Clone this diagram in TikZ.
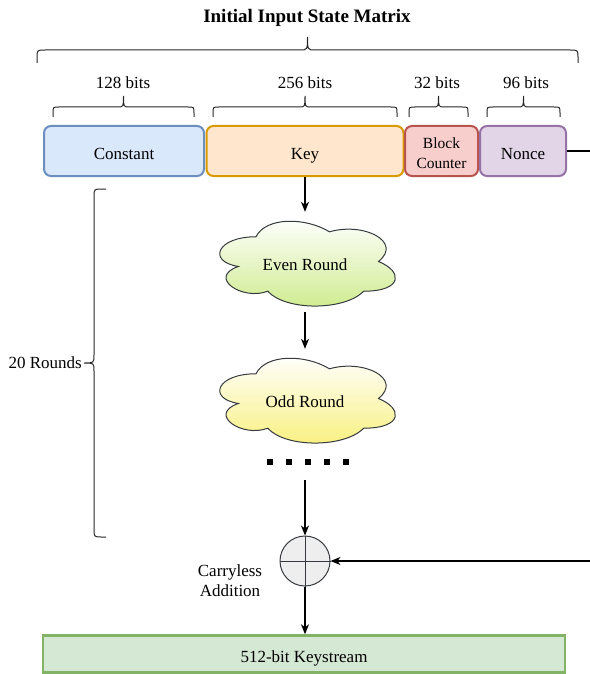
\documentclass[tikz,border=0pt]{standalone}
\usepackage{fontspec}
\setmainfont{Liberation Serif}
\usetikzlibrary{arrows.meta}

\definecolor{constFill}{HTML}{DAE8FC}\definecolor{constLine}{HTML}{6C8EBF}
\definecolor{keyFill}{HTML}{FFE6CC}\definecolor{keyLine}{HTML}{D79B00}
\definecolor{ctrFill}{HTML}{F8CECC}\definecolor{ctrLine}{HTML}{B85450}
\definecolor{nonceFill}{HTML}{E1D5E7}\definecolor{nonceLine}{HTML}{9673A6}
\definecolor{ksFill}{HTML}{D5E8D4}\definecolor{ksLine}{HTML}{82B366}
\definecolor{evenBot}{HTML}{CDEB8B}
\definecolor{oddBot}{HTML}{F8F07C}
\definecolor{xorFill}{HTML}{EEEEEE}\definecolor{xorLine}{HTML}{36393D}

% horizontal curly brace: x1, x2, y of ends, y of bar, y of tip, corner radius
\newcommand{\hbrace}[6]{%
  \draw[braceline] (#1,#3) -- (#1,{#4+#6}) .. controls (#1,#4) .. ({#1+#6},#4)
    -- ({(#1+#2)/2-#6},#4) .. controls ({(#1+#2)/2},#4) .. ({(#1+#2)/2},#5)
    .. controls ({(#1+#2)/2},#4) .. ({(#1+#2)/2+#6},#4)
    -- ({#2-#6},#4) .. controls (#2,#4) .. (#2,{#4+#6}) -- (#2,#3);}
% vertical curly brace opening to the right: y1, y2, x of ends, x of bar, x of tip, radius
\newcommand{\vbrace}[6]{%
  \draw[braceline] (#3,#1) -- ({#4+#6},#1) .. controls (#4,#1) .. (#4,{#1+#6})
    -- (#4,{(#1+#2)/2-#6}) .. controls (#4,{(#1+#2)/2}) .. (#5,{(#1+#2)/2})
    .. controls (#4,{(#1+#2)/2}) .. (#4,{(#1+#2)/2+#6})
    -- (#4,{#2-#6}) .. controls (#4,#2) .. ({#4+#6},#2) -- (#3,#2);}
% cloud outline inside the box with top-left corner (#2,#3), size #4 x #5
\newcommand{\cloudpath}[5]{%
  \begin{scope}[shift={(#2,#3)}, x=#4pt, y=-#5pt]
    \path[#1] (0.25,0.25) .. controls (0.05,0.25) and (0,0.5) .. (0.16,0.55)
      .. controls (0,0.66) and (0.18,0.9) .. (0.31,0.8)
      .. controls (0.4,1) and (0.7,1) .. (0.8,0.8)
      .. controls (1,0.8) and (1,0.6) .. (0.875,0.5)
      .. controls (1,0.3) and (0.8,0.1) .. (0.625,0.2)
      .. controls (0.5,0.05) and (0.3,0.05) .. (0.25,0.25) -- cycle;
  \end{scope}}

\tikzset{
  every node/.style={font=\fontsize{17}{20}\selectfont, inner sep=0pt,
    text height=12pt, text depth=0pt},
  multiline/.style={align=center, text height=, text depth=},
  field/.style={draw, line width=2pt, rounded corners=7pt, minimum height=50pt,
    text height=16.5pt},
  braceline/.style={line width=1pt, black!85},
  flow/.style={line width=1.1pt, -{Stealth[length=10pt,width=8pt,inset=3pt]}},
  cloudbox/.style={minimum width=196pt, minimum height=100pt, text height=17pt},
}

\begin{document}
\begin{tikzpicture}[x=1pt, y=-1pt]
\useasboundingbox (0,0) rectangle (589,674);

% title and overall brace
\node[font=\fontsize{19}{22}\selectfont\bfseries, text height=13pt] (title) at (307,16) {Initial Input State Matrix};
\hbrace{37}{578}{63}{50}{37}{8}

% field widths
\node (l128) at (123,83) {128 bits};
\node (l256) at (305,83) {256 bits};
\node (l32)  at (437,83) {32 bits};
\node (l96)  at (526,83) {96 bits};
\hbrace{53}{194}{117}{107}{96}{6}
\hbrace{213}{397}{117}{107}{96}{6}
\hbrace{409}{468}{117}{107}{96}{6}
\hbrace{487}{560}{117}{107}{96}{6}

% state fields
\node[field, fill=constFill, draw=constLine, minimum width=160pt] (const) at (124,151) {Constant};
\node[field, fill=keyFill, draw=keyLine, minimum width=197pt] (key) at (305,151) {Key};
\node[field, fill=ctrFill, draw=ctrLine, minimum width=73pt] (ctr) at (441.5,151) {};
\node[multiline, font=\fontsize{15.5}{20}\selectfont] (ctrtext) at (441.5,153) {Block\\Counter};
\node[field, fill=nonceFill, draw=nonceLine, minimum width=86pt] (nonce) at (523,151) {Nonce};

% rounds
\cloudpath{draw=xorLine, line width=1pt, top color=white, bottom color=evenBot}{207}{212}{196}{99}
\node[cloudbox] (even) at (305,262) {Even Round};
\cloudpath{draw=xorLine, line width=1pt, top color=white, bottom color=oddBot}{207}{349}{196}{99}
\node[cloudbox] (odd) at (305,399) {Odd Round};

% row of dots marking the remaining rounds
\node[minimum width=82pt, minimum height=36pt] (dots) at (305,462) {};
\draw[line width=6pt, dash pattern=on 6pt off 13pt]
  ([xshift=3.5pt]dots.west) -- ([xshift=3.5pt]dots.east);

\vbrace{189}{537}{106}{94}{84}{8}
\node[anchor=east] (rounds) at (82,362) {20 Rounds};

% carryless addition
\node[circle, draw=xorLine, fill=xorFill, line width=1pt, minimum size=50pt,
      text height=, text depth=] (xor) at (305,561) {};
\draw[xorLine, line width=1pt] (xor.north) -- (xor.south) (xor.west) -- (xor.east);
\node[multiline] (xorlbl) at (230,581) {Carryless\\Addition};

% keystream
\node[draw=ksLine, fill=ksFill, line width=2.5pt, minimum width=522pt, minimum height=37pt,
      text height=16pt] (ks) at (304,654) {512-bit Keystream};

% connectors
\draw[flow] (key.south) -- (even.north);
\draw[flow] (even.south) -- (odd.north);
\draw[flow] (dots.south) -- (xor.north);
\draw[flow] (xor.south) -- (xor.south |- ks.north);
\draw[flow] (nonce.east) -- ++(40,0) |- (xor.east);
\end{tikzpicture}
\end{document}
